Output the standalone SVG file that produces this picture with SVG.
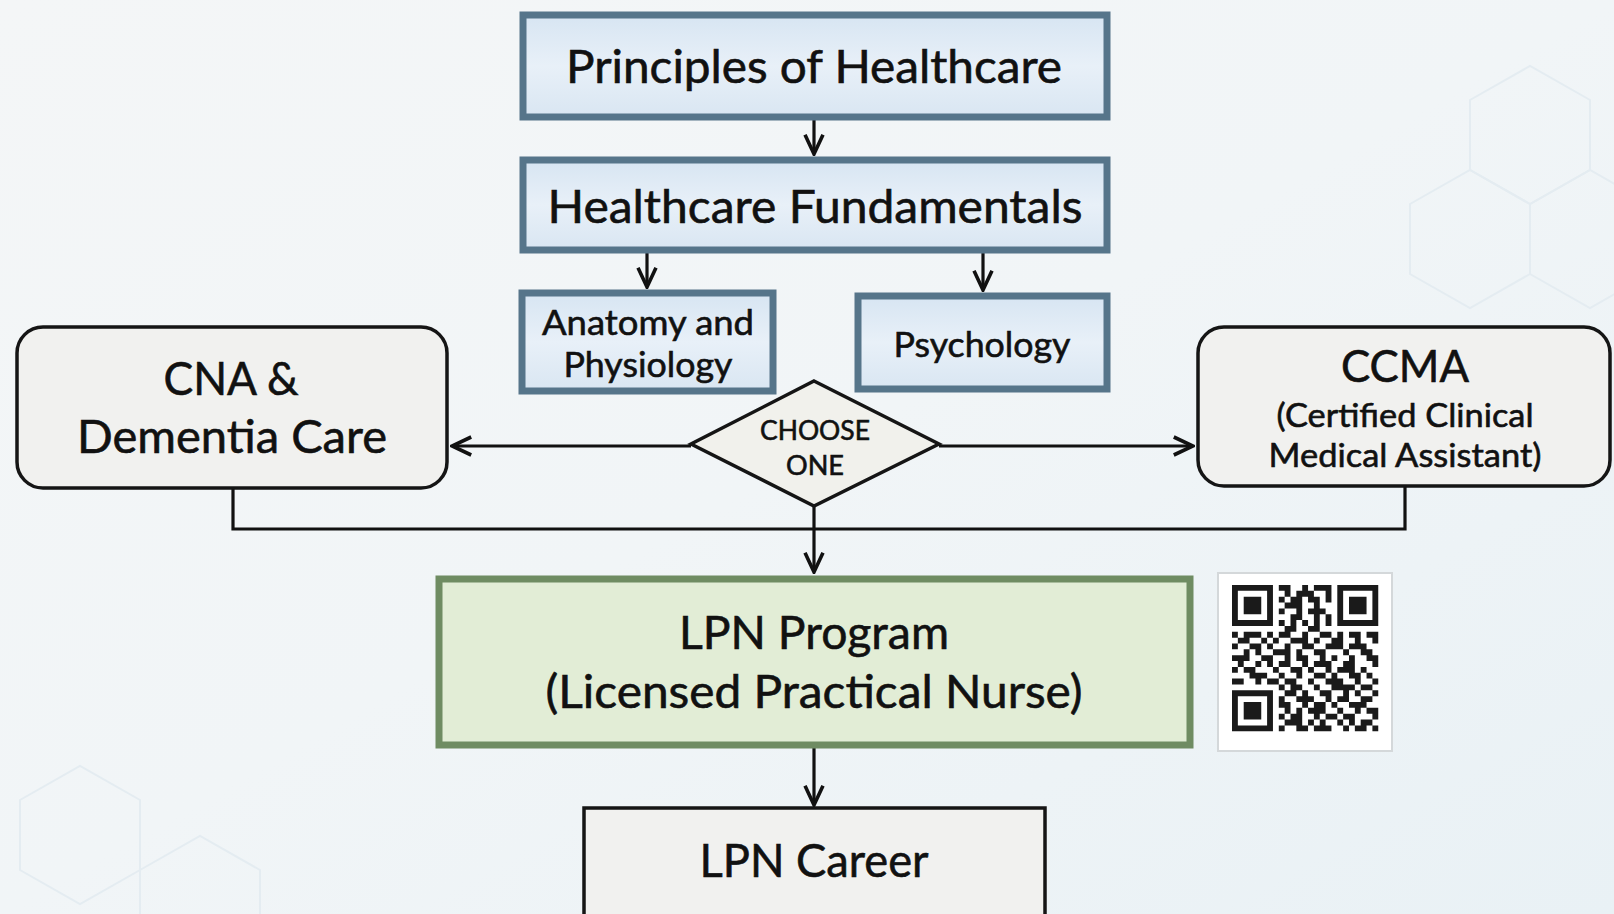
<svg xmlns="http://www.w3.org/2000/svg" width="1614" height="914" viewBox="0 0 1614 914">
<defs>
<linearGradient id="bg" x1="0" y1="0" x2="1" y2="1">
<stop offset="0" stop-color="#f4f6f7"/>
<stop offset="0.5" stop-color="#f1f5f7"/>
<stop offset="1" stop-color="#e9f1f5"/>
</linearGradient>
<linearGradient id="blueFill" x1="0" y1="0" x2="0" y2="1">
<stop offset="0" stop-color="#d7e5f2"/>
<stop offset="0.5" stop-color="#e8f0f8"/>
<stop offset="1" stop-color="#d9e6f2"/>
</linearGradient>
<marker id="arr" viewBox="0 0 20 20" refX="18" refY="10" markerWidth="24" markerHeight="24" markerUnits="userSpaceOnUse" orient="auto">
<path d="M2,2.5 L18,10 L2,17.5" fill="none" stroke="#111" stroke-width="3"/>
</marker>
<path id="finder" d="M0 0h7v7h-7z M1 1v5h5v-5z M2 2h3v3h-3z" fill-rule="evenodd"/>
</defs>
<style>
text{font-family:Lato,"Open Sans","Liberation Sans",sans-serif;fill:#111;text-anchor:middle;stroke:#111;stroke-width:0.6}
.blue{fill:url(#blueFill);stroke:#56758a;stroke-width:7}
.gray{fill:#f1f1ef;stroke:#151515;stroke-width:3.5}
.green{fill:#e2edd6;stroke:#6f8c62;stroke-width:7}
.conn{fill:none;stroke:#111;stroke-width:3.2}
.hex{fill:none;stroke:#e4ecf1;stroke-width:2}
</style>
<rect width="1614" height="914" fill="url(#bg)"/>
<g id="background-hexagons">
<path class="hex" d="M1470,100 L1530,66 L1590,100 L1590,170 L1530,204 L1470,170 Z"/>
<path class="hex" d="M1530,204 L1590,170 L1650,204 L1650,274 L1590,308 L1530,274 Z"/>
<path class="hex" d="M1410,204 L1470,170 L1530,204 L1530,274 L1470,308 L1410,274 Z"/>
<path class="hex" d="M20,800 L80,766 L140,800 L140,870 L80,904 L20,870 Z"/>
<path class="hex" d="M140,870 L200,836 L260,870 L260,940 L200,974 L140,940 Z"/>
</g>
<g id="connectors">
<line class="conn" x1="814" y1="120" x2="814" y2="154" marker-end="url(#arr)"/>
<line class="conn" x1="647" y1="253" x2="647" y2="287" marker-end="url(#arr)"/>
<line class="conn" x1="983" y1="253" x2="983" y2="290" marker-end="url(#arr)"/>
<line class="conn" x1="691" y1="446" x2="452" y2="446" marker-end="url(#arr)"/>
<line class="conn" x1="939" y1="446" x2="1193" y2="446" marker-end="url(#arr)"/>
<line class="conn" x1="814" y1="506" x2="814" y2="572" marker-end="url(#arr)"/>
<polyline class="conn" points="233,489 233,529 1405,529 1405,487"/>
<line class="conn" x1="814" y1="748" x2="814" y2="805" marker-end="url(#arr)"/>
</g>
<g id="principles">
<rect class="blue" x="523" y="15" width="584" height="102"/>
<text x="814" y="83" font-size="46" textLength="496" lengthAdjust="spacingAndGlyphs">Principles of Healthcare</text>
</g>
<g id="fundamentals">
<rect class="blue" x="523" y="160" width="584" height="90"/>
<text x="815" y="223" font-size="46" textLength="535" lengthAdjust="spacingAndGlyphs">Healthcare Fundamentals</text>
</g>
<g id="anatomy">
<rect class="blue" x="522" y="293" width="251" height="98"/>
<text x="648" y="335" font-size="35" textLength="212" lengthAdjust="spacingAndGlyphs">Anatomy and</text>
<text x="648" y="377" font-size="35" textLength="169" lengthAdjust="spacingAndGlyphs">Physiology</text>
</g>
<g id="psychology">
<rect class="blue" x="858" y="296" width="249" height="93"/>
<text x="982" y="357" font-size="35" textLength="177" lengthAdjust="spacingAndGlyphs">Psychology</text>
</g>
<g id="choose">
<polygon points="814,381 939,444 814,506 691,444" fill="#f1f1ec" stroke="#151515" stroke-width="3.5"/>
<text x="815" y="440" font-size="26" textLength="110" lengthAdjust="spacingAndGlyphs">CHOOSE</text>
<text x="815" y="475" font-size="26" textLength="58" lengthAdjust="spacingAndGlyphs">ONE</text>
</g>
<g id="cna">
<rect class="gray" x="17" y="327" width="430" height="161" rx="26"/>
<text x="231" y="395" font-size="46" textLength="135" lengthAdjust="spacingAndGlyphs">CNA &amp;</text>
<text x="232" y="453" font-size="46" textLength="310" lengthAdjust="spacingAndGlyphs">Dementia Care</text>
</g>
<g id="ccma">
<rect class="gray" x="1198" y="327" width="412" height="159" rx="26"/>
<text x="1405" y="382" font-size="44" textLength="128" lengthAdjust="spacingAndGlyphs">CCMA</text>
<text x="1405" y="427" font-size="33" textLength="257" lengthAdjust="spacingAndGlyphs">(Certified Clinical</text>
<text x="1405" y="467" font-size="33" textLength="273" lengthAdjust="spacingAndGlyphs">Medical Assistant)</text>
</g>
<g id="lpn-program">
<rect class="green" x="439" y="579" width="751" height="166"/>
<text x="814" y="649" font-size="46" textLength="270" lengthAdjust="spacingAndGlyphs">LPN Program</text>
<text x="814" y="708" font-size="46" textLength="537" lengthAdjust="spacingAndGlyphs">(Licensed Practical Nurse)</text>
</g>
<g id="qr-code">
<rect x="1218" y="573" width="174" height="178" fill="#ffffff" stroke="#d4d8da" stroke-width="2"/>
<g transform="translate(1232,585) scale(5.85)" fill="#1a1a1a">
<use href="#finder"/>
<use href="#finder" x="18"/>
<use href="#finder" y="18"/>
<path d="M8 0h2v1h-2z M12 0h1v1h-1z M14 0h3v1h-3z
M9 1h1v1h-1z M11 1h3v1h-3z M16 1h1v1h-1z
M8 2h1v1h-1z M10 2h2v1h-2z M13 2h2v1h-2z M16 2h1v1h-1z
M9 3h3v1h-3z M14 3h1v1h-1z
M8 4h1v1h-1z M11 4h1v1h-1z M13 4h3v1h-3z
M10 5h2v1h-2z M14 5h1v1h-1z M16 5h1v1h-1z
M8 6h1v1h-1z M10 6h1v1h-1z M12 6h1v1h-1z M14 6h1v1h-1z M16 6h1v1h-1z
M9 7h2v1h-2z M13 7h2v1h-2z
M0 8h1v1h-1z M2 8h3v1h-3z M6 8h1v1h-1z M8 8h2v1h-2z M12 8h1v1h-1z M15 8h2v1h-2z M18 8h1v1h-1z M20 8h2v1h-2z M23 8h2v1h-2z
M1 9h2v1h-2z M5 9h1v1h-1z M7 9h1v1h-1z M10 9h3v1h-3z M14 9h1v1h-1z M17 9h2v1h-2z M21 9h1v1h-1z M24 9h1v1h-1z
M0 10h1v1h-1z M3 10h2v1h-2z M6 10h1v1h-1z M9 10h1v1h-1z M12 10h2v1h-2z M16 10h3v1h-3z M20 10h3v1h-3z
M2 11h1v1h-1z M4 11h1v1h-1z M7 11h3v1h-3z M11 11h1v1h-1z M14 11h2v1h-2z M19 11h1v1h-1z M22 11h2v1h-2z
M0 12h3v1h-3z M5 12h2v1h-2z M9 12h1v1h-1z M11 12h2v1h-2z M15 12h1v1h-1z M17 12h1v1h-1z M20 12h1v1h-1z M23 12h2v1h-2z
M1 13h1v1h-1z M4 13h1v1h-1z M6 13h1v1h-1z M8 13h2v1h-2z M12 13h1v1h-1z M14 13h3v1h-3z M19 13h2v1h-2z M24 13h1v1h-1z
M0 14h1v1h-1z M2 14h2v1h-2z M7 14h1v1h-1z M10 14h2v1h-2z M13 14h1v1h-1z M16 14h1v1h-1z M18 14h3v1h-3z M22 14h1v1h-1z
M3 15h3v1h-3z M8 15h1v1h-1z M11 15h1v1h-1z M14 15h2v1h-2z M17 15h1v1h-1z M20 15h2v1h-2z M23 15h1v1h-1z
M0 16h2v1h-2z M4 16h1v1h-1z M6 16h2v1h-2z M9 16h2v1h-2z M13 16h1v1h-1z M16 16h3v1h-3z M21 16h1v1h-1z M24 16h1v1h-1z
M8 17h1v1h-1z M10 17h2v1h-2z M14 17h1v1h-1z M17 17h4v1h-4z M22 17h2v1h-2z
M9 18h2v1h-2z M12 18h1v1h-1z M15 18h2v1h-2z M19 18h1v1h-1z M21 18h1v1h-1z M24 18h1v1h-1z
M8 19h1v1h-1z M11 19h3v1h-3z M16 19h1v1h-1z M18 19h2v1h-2z M22 19h2v1h-2z
M8 20h2v1h-2z M12 20h1v1h-1z M14 20h2v1h-2z M17 20h1v1h-1z M20 20h3v1h-3z
M9 21h1v1h-1z M11 21h1v1h-1z M13 21h3v1h-3z M18 21h1v1h-1z M21 21h1v1h-1z M23 21h2v1h-2z
M8 22h1v1h-1z M10 22h2v1h-2z M14 22h1v1h-1z M16 22h2v1h-2z M19 22h2v1h-2z M24 22h1v1h-1z
M9 23h3v1h-3z M13 23h1v1h-1z M15 23h1v1h-1z M18 23h1v1h-1z M20 23h1v1h-1z M22 23h2v1h-2z
M8 24h1v1h-1z M11 24h2v1h-2z M14 24h3v1h-3z M19 24h1v1h-1z M21 24h2v1h-2z M24 24h1v1h-1z"/>
</g>
</g>
<g id="lpn-career">
<rect class="gray" x="584" y="808" width="461" height="112" stroke-width="4.5" fill="#f2f2f0"/>
<text x="814" y="877" font-size="46" textLength="229" lengthAdjust="spacingAndGlyphs">LPN Career</text>
</g>
</svg>
